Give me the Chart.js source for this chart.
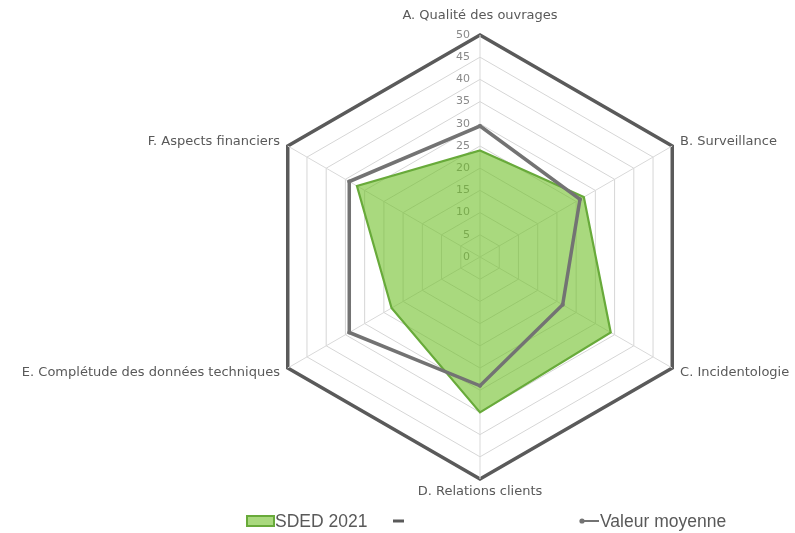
<!DOCTYPE html>
<html lang="fr">
<head>
<meta charset="utf-8">
<title>SDED 2021 – Radar</title>
<script src="https://cdn.jsdelivr.net/npm/chart.js@4/dist/chart.umd.min.js"></script>
<style>
  html, body { margin: 0; padding: 0; background: #ffffff; }
  #wrap { width: 795px; height: 533px; }
</style>
</head>
<body>
<div id="wrap"><canvas id="radar" width="795" height="533"></canvas></div>
<script>
// Axes of the radar
const categories = [
  'A. Qualité des ouvrages',
  'B. Surveillance',
  'C. Incidentologie',
  'D. Relations clients',
  'E. Complétude des données techniques',
  'F. Aspects financiers'
];

// Series
const sdedLabel = 'SDED 2021';
const sdedValues = [24, 27, 34, 35, 23, 32];

const moyenneLabel = 'Valeur moyenne';
const moyenneValues = [29.5, 26, 21.5, 29, 34, 34];

// Radial tick labels
const tickValues = [0, 5, 10, 15, 20, 25, 30, 35, 40, 45, 50];

const GREEN_LINE = '#68aa3a';
const GREEN_FILL = 'rgba(112, 192, 40, 0.6)';
const GREY_LINE = '#737373';
const FRAME = '#5a5a5a';
const TEXT = '#595959';

// Tick labels under the fill, axis names and legend on top
const radarText = {
  id: 'radarText',
  beforeDatasetsDraw(chart) {
    const r = chart.scales.r;
    const ctx = chart.ctx;
    ctx.save();
    ctx.font = '11px "DejaVu Sans"';
    ctx.fillStyle = '#8a8a8a';
    ctx.textAlign = 'right';
    ctx.textBaseline = 'middle';
    tickValues.forEach(v => {
      ctx.fillText(String(v), r.xCenter - 10, r.yCenter - r.getDistanceFromCenterForValue(v));
    });
    ctx.restore();
  },
  afterDraw(chart) {
    const r = chart.scales.r;
    const ctx = chart.ctx;
    ctx.save();
    ctx.font = '13px "DejaVu Sans"';
    ctx.fillStyle = TEXT;
    ctx.textBaseline = 'middle';
    categories.forEach((label, i) => {
      let extra = 9;
      if (i === 0) extra = 19;
      if (i === 3) extra = 13;
      const p = r.getPointPosition(i, r.drawingArea + extra);
      if (Math.abs(p.x - r.xCenter) < 1) ctx.textAlign = 'center';
      else ctx.textAlign = p.x > r.xCenter ? 'left' : 'right';
      ctx.fillText(label, p.x, p.y);
    });

    // legend
    const ly = 521;
    ctx.fillStyle = GREEN_FILL;
    ctx.fillRect(247, 516, 27, 10);
    ctx.strokeStyle = GREEN_LINE;
    ctx.lineWidth = 2;
    ctx.strokeRect(247, 516, 27, 10);

    ctx.font = '17.5px "Liberation Sans"';
    ctx.fillStyle = TEXT;
    ctx.textAlign = 'left';
    ctx.fillText(sdedLabel, 275, ly + 1);

    ctx.strokeStyle = FRAME;
    ctx.lineWidth = 3;
    ctx.beginPath();
    ctx.moveTo(393, ly);
    ctx.lineTo(404, ly);
    ctx.stroke();

    ctx.strokeStyle = GREY_LINE;
    ctx.lineWidth = 2;
    ctx.beginPath();
    ctx.moveTo(580, ly);
    ctx.lineTo(599, ly);
    ctx.stroke();
    ctx.fillStyle = GREY_LINE;
    ctx.beginPath();
    ctx.arc(582, ly, 2.6, 0, Math.PI * 2);
    ctx.fill();

    ctx.fillStyle = TEXT;
    ctx.fillText(moyenneLabel, 600, ly + 1);
    ctx.restore();
  }
};

new Chart(document.getElementById('radar'), {
  type: 'radar',
  data: {
    labels: categories,
    datasets: [
      {
        label: moyenneLabel,
        data: moyenneValues,
        order: 0,
        fill: false,
        borderColor: GREY_LINE,
        borderWidth: 3.5,
        borderJoinStyle: 'miter',
        pointRadius: 2,
        pointBackgroundColor: GREY_LINE,
        pointBorderColor: GREY_LINE,
        pointBorderWidth: 0
      },
      {
        label: sdedLabel,
        data: sdedValues,
        order: 1,
        fill: true,
        backgroundColor: GREEN_FILL,
        borderColor: GREEN_LINE,
        borderWidth: 2.2,
        borderJoinStyle: 'miter',
        pointRadius: 0
      }
    ]
  },
  options: {
    responsive: false,
    animation: false,
    devicePixelRatio: 1,
    layout: { padding: { left: 258, right: 93, top: 35, bottom: 54 } },
    plugins: {
      legend: { display: false },
      tooltip: { enabled: false }
    },
    scales: {
      r: {
        min: tickValues[0],
        max: tickValues[tickValues.length - 1],
        ticks: { display: false, stepSize: tickValues[1] - tickValues[0] },
        pointLabels: { display: false },
        angleLines: { color: '#d9d9d9', lineWidth: 1 },
        grid: {
          color: ctx => ctx.tick && ctx.tick.value === tickValues[tickValues.length - 1] ? FRAME : '#d6d6d6',
          lineWidth: ctx => ctx.tick && ctx.tick.value === tickValues[tickValues.length - 1] ? 3.5 : 1
        }
      }
    }
  },
  plugins: [radarText]
});
</script>
</body>
</html>
